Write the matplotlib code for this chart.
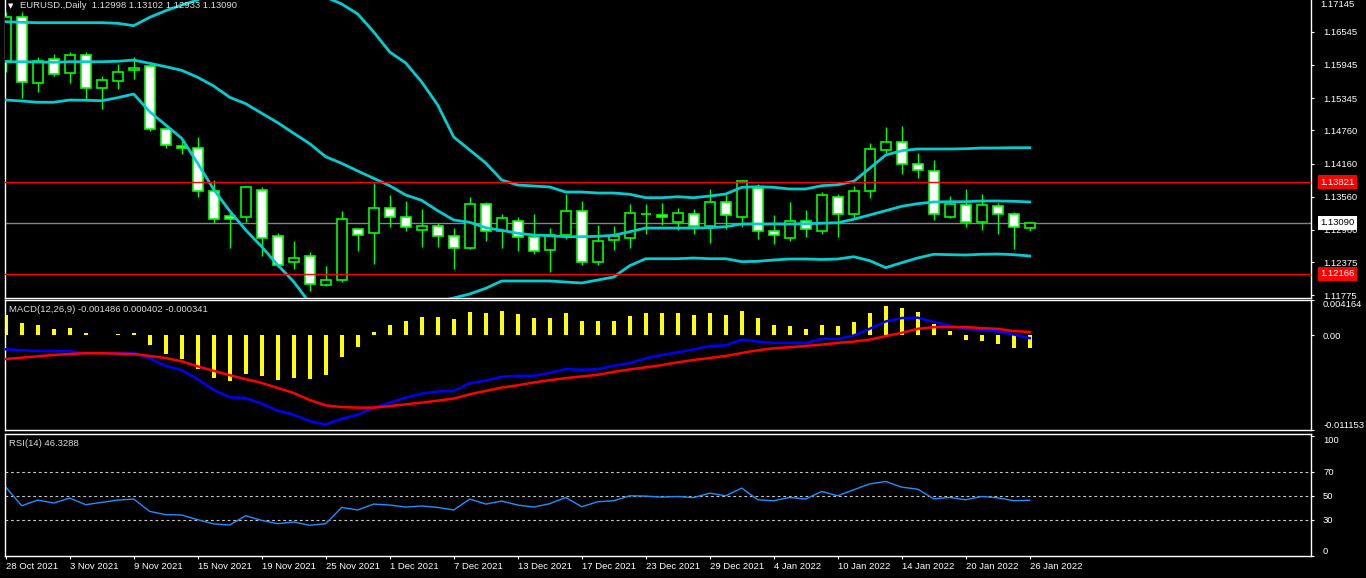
import numpy as np
import matplotlib
matplotlib.use("Agg")
import matplotlib.pyplot as plt
from matplotlib.patches import Rectangle
from matplotlib.transforms import blended_transform_factory

plt.rcParams['font.family'] = ['Liberation Sans', 'DejaVu Sans']

# EURUSD daily candles, 28 Oct 2021 .. 26 Jan 2022
opens = [1.16021, 1.16805, 1.15611, 1.16045, 1.15792, 1.16117, 1.15521, 1.15647, 1.15846, 1.15918,
         1.14779, 1.14478, 1.14436, 1.13658, 1.13206, 1.13188, 1.13676, 1.12844, 1.12374, 1.12482,
         1.11958, 1.12048, 1.12971, 1.12898, 1.13351, 1.13188, 1.12961, 1.13039, 1.12844, 1.12627,
         1.13423, 1.12941, 1.13115, 1.12826, 1.12591, 1.12862, 1.13296, 1.12374, 1.12772, 1.12820,
         1.13242, 1.13224, 1.13109, 1.13242, 1.13033, 1.13459, 1.13188, 1.13712, 1.12935, 1.12820,
         1.13115, 1.12947, 1.13549, 1.13242, 1.13658, 1.14400, 1.14544, 1.14146, 1.14020, 1.13188,
         1.13405, 1.13097, 1.13387, 1.13242, 1.12998]
highs = [1.16907, 1.16896, 1.16093, 1.16141, 1.16178, 1.16178, 1.15744, 1.15961, 1.16081, 1.15937,
         1.14809, 1.14574, 1.14641, 1.13863, 1.13260, 1.13742, 1.13730, 1.12898, 1.12760, 1.12555,
         1.12308, 1.13302, 1.12989, 1.13815, 1.13586, 1.13483, 1.13338, 1.13081, 1.12995, 1.13555,
         1.13465, 1.13242, 1.13194, 1.13248, 1.12995, 1.13610, 1.13483, 1.13049, 1.13025, 1.13429,
         1.13429, 1.13447, 1.13356, 1.13338, 1.13700, 1.13592, 1.13863, 1.13791, 1.13230, 1.13465,
         1.13320, 1.13646, 1.13610, 1.13754, 1.14526, 1.14821, 1.14839, 1.14345, 1.14219, 1.13567,
         1.13700, 1.13604, 1.13441, 1.13278, 1.13102]
lows = [1.15822, 1.15352, 1.15460, 1.15744, 1.15623, 1.15310, 1.15141, 1.15503, 1.15695, 1.14755,
        1.14436, 1.14327, 1.13562, 1.13091, 1.12627, 1.13109, 1.12494, 1.12296, 1.12260, 1.11862,
        1.11950, 1.12024, 1.12585, 1.12350, 1.13019, 1.12947, 1.12657, 1.12657, 1.12260, 1.12620,
        1.12766, 1.12639, 1.12585, 1.12531, 1.12205, 1.12802, 1.12332, 1.12332, 1.12603, 1.12639,
        1.12892, 1.13055, 1.12961, 1.12892, 1.12730, 1.12983, 1.13019, 1.12790, 1.12711, 1.12766,
        1.12838, 1.12892, 1.12838, 1.13170, 1.13543, 1.14357, 1.13977, 1.13905, 1.13146, 1.13180,
        1.13019, 1.12961, 1.12892, 1.12621, 1.12933]
closes = [1.16816, 1.15630, 1.16021, 1.15774, 1.16117, 1.15521, 1.15665, 1.15810, 1.15882, 1.14779,
          1.14490, 1.14442, 1.13658, 1.13152, 1.13152, 1.13730, 1.12820, 1.12320, 1.12446, 1.11976,
          1.12048, 1.13152, 1.12862, 1.13351, 1.13188, 1.13007, 1.13039, 1.12844, 1.12627, 1.13423,
          1.12941, 1.13170, 1.12826, 1.12573, 1.12862, 1.13296, 1.12374, 1.12754, 1.12844, 1.13260,
          1.13254, 1.13188, 1.13260, 1.13033, 1.13459, 1.13224, 1.13839, 1.12935, 1.12862, 1.13115,
          1.12971, 1.13586, 1.13242, 1.13658, 1.14418, 1.14544, 1.14146, 1.14038, 1.13242, 1.13423,
          1.13097, 1.13405, 1.13242, 1.13007, 1.13090]

# Bollinger bands (20, 2)
bb_upper = [1.16726, 1.16715, 1.16708, 1.16708, 1.16708, 1.16708, 1.16708, 1.16697, 1.16654, 1.16805,
            1.16925, 1.17028, 1.17118, 1.17400, 1.17580, 1.17680, 1.17750, 1.17720, 1.17620, 1.17420,
            1.17170, 1.17046, 1.16865, 1.16540, 1.16178, 1.15979, 1.15635, 1.15220, 1.14641, 1.14406,
            1.14171, 1.13863, 1.13773, 1.13755, 1.13737, 1.13646, 1.13646, 1.13628, 1.13628, 1.13605,
            1.13543, 1.13543, 1.13561, 1.13543, 1.13574, 1.13610, 1.13731, 1.13742, 1.13731, 1.13701,
            1.13701, 1.13760, 1.13778, 1.13840, 1.14075, 1.14315, 1.14393, 1.14424, 1.14424, 1.14424,
            1.14429, 1.14442, 1.14442, 1.14447, 1.14447]
bb_mid = [1.16002, 1.16002, 1.15997, 1.15992, 1.16002, 1.16002, 1.16002, 1.16010, 1.16033, 1.15973,
          1.15912, 1.15847, 1.15720, 1.15563, 1.15359, 1.15243, 1.15070, 1.14900, 1.14708, 1.14520,
          1.14284, 1.14165, 1.14026, 1.13894, 1.13760, 1.13592, 1.13496, 1.13308, 1.13140, 1.13098,
          1.13001, 1.12954, 1.12900, 1.12869, 1.12856, 1.12838, 1.12838, 1.12845, 1.12863, 1.12928,
          1.12995, 1.12995, 1.12995, 1.12995, 1.13001, 1.13019, 1.13068, 1.13068, 1.13068, 1.13068,
          1.13073, 1.13082, 1.13091, 1.13153, 1.13231, 1.13308, 1.13388, 1.13435, 1.13466, 1.13471,
          1.13471, 1.13484, 1.13484, 1.13479, 1.13466]
bb_lower = [1.15310, 1.15292, 1.15269, 1.15269, 1.15310, 1.15305, 1.15297, 1.15352, 1.15418, 1.15098,
            1.14858, 1.14617, 1.14165, 1.13692, 1.13303, 1.12959, 1.12657, 1.12326, 1.12024, 1.11639,
            1.11458, 1.11368, 1.11332, 1.11368, 1.11422, 1.11476, 1.11567, 1.11657, 1.11730, 1.11802,
            1.11905, 1.12037, 1.12037, 1.12037, 1.12037, 1.12019, 1.12001, 1.12055, 1.12109, 1.12314,
            1.12440, 1.12440, 1.12440, 1.12453, 1.12440, 1.12440, 1.12386, 1.12393, 1.12417, 1.12435,
            1.12435, 1.12426, 1.12435, 1.12476, 1.12404, 1.12278, 1.12368, 1.12453, 1.12520, 1.12513,
            1.12507, 1.12520, 1.12525, 1.12513, 1.12489]

# MACD(12,26,9): yellow histogram, blue main, red signal
macd_hist = [0.00243, 0.00145, 0.00125, 0.00077, 0.00089, 0.00030, 0.00006, 0.00018, 0.00030, -0.00113,
             -0.00220, -0.00279, -0.00398, -0.00504, -0.00537, -0.00457, -0.00477, -0.00524, -0.00504, -0.00516,
             -0.00469, -0.00255, -0.00137, 0.00045, 0.00125, 0.00172, 0.00220, 0.00220, 0.00196, 0.00279,
             0.00267, 0.00291, 0.00255, 0.00208, 0.00208, 0.00267, 0.00172, 0.00172, 0.00172, 0.00231,
             0.00267, 0.00267, 0.00267, 0.00243, 0.00267, 0.00243, 0.00291, 0.00208, 0.00125, 0.00113,
             0.00077, 0.00125, 0.00113, 0.00160, 0.00267, 0.00350, 0.00326, 0.00279, 0.00137, 0.00053,
             -0.00050, -0.00062, -0.00097, -0.00145, -0.001486]
macd_main = [-0.00164, -0.00176, -0.00184, -0.00184, -0.00188, -0.00208, -0.00208, -0.00208, -0.00208, -0.00271,
             -0.00358, -0.00410, -0.00516, -0.00643, -0.00730, -0.00738, -0.00805, -0.00888, -0.00935, -0.01011,
             -0.01050, -0.00983, -0.00935, -0.00852, -0.00793, -0.00734, -0.00686, -0.00662, -0.00655, -0.00564,
             -0.00532, -0.00489, -0.00477, -0.00477, -0.00442, -0.00398, -0.00406, -0.00398, -0.00358, -0.00326,
             -0.00271, -0.00231, -0.00200, -0.00166, -0.00125, -0.00117, -0.00050, -0.00074, -0.00089, -0.00089,
             -0.00089, -0.00042, -0.00042, -0.00002, 0.00077, 0.00164, 0.00204, 0.00208, 0.00157, 0.00116,
             0.00077, 0.00065, 0.00045, 0.00010, -0.000341]
macd_signal = [-0.00279, -0.00263, -0.00247, -0.00231, -0.00220, -0.00211, -0.00211, -0.00216, -0.00220, -0.00243,
               -0.00267, -0.00306, -0.00366, -0.00418, -0.00469, -0.00516, -0.00560, -0.00620, -0.00679, -0.00762,
               -0.00825, -0.00845, -0.00852, -0.00852, -0.00833, -0.00813, -0.00793, -0.00769, -0.00745, -0.00694,
               -0.00655, -0.00615, -0.00588, -0.00556, -0.00528, -0.00504, -0.00484, -0.00465, -0.00430, -0.00401,
               -0.00377, -0.00350, -0.00318, -0.00290, -0.00267, -0.00243, -0.00208, -0.00176, -0.00152, -0.00140,
               -0.00125, -0.00109, -0.00089, -0.00074, -0.00050, -0.00009, 0.00030, 0.00077, 0.00097, 0.00097,
               0.00097, 0.00085, 0.00077, 0.00050, 0.000402]

# RSI(14)
rsi = [57.3, 41.8, 46.5, 44.1, 48.2, 42.7, 44.6, 46.5, 47.4, 37.1,
       34.4, 34.1, 30.2, 26.7, 25.8, 33.5, 29.6, 26.9, 28.3, 25.5,
       26.9, 40.4, 38.3, 43.2, 42.4, 40.7, 41.6, 40.4, 38.3, 47.4,
       43.2, 45.7, 42.4, 40.7, 43.5, 48.7, 41.0, 45.1, 46.0, 50.1,
       49.8, 49.0, 49.5, 48.6, 52.3, 50.1, 56.5, 46.8, 46.0, 48.7,
       47.4, 53.7, 50.1, 55.1, 60.0, 62.0, 57.3, 55.6, 47.6, 48.7,
       46.8, 49.5, 48.4, 46.0, 46.3288]

date_labels = ['28 Oct 2021', '3 Nov 2021', '9 Nov 2021', '15 Nov 2021', '19 Nov 2021',
               '25 Nov 2021', '1 Dec 2021', '7 Dec 2021', '13 Dec 2021', '17 Dec 2021',
               '23 Dec 2021', '29 Dec 2021', '4 Jan 2022', '10 Jan 2022', '14 Jan 2022',
               '20 Jan 2022', '26 Jan 2022']
price_ticks = [1.16545, 1.15945, 1.15345, 1.14760, 1.14160, 1.13560, 1.12960, 1.12375, 1.11775]
top_label = 1.17145
level_hi = 1.13821
level_lo = 1.12166
last_price = 1.13090

lime = '#00FF00'
band_col = '#00CED1'
txt_col = '#DCDCDC'
fs = 6.8

W, H = 1366, 578
fig = plt.figure(figsize=(W / 100, H / 100), dpi=100, facecolor='black')


def box(top, bottom):
    # pixel rows of the panel -> figure rectangle
    return [5 / W, 1 - bottom / H, (1311 - 5) / W, (bottom - top) / H]


ax = fig.add_axes(box(0, 298))
ax_m = fig.add_axes(box(300, 430), sharex=ax)
ax_r = fig.add_axes(box(434, 556), sharex=ax)

for a in (ax, ax_m, ax_r):
    a.set_facecolor('black')
    for s in a.spines.values():
        s.set_color('white')
        s.set_linewidth(1)
    a.yaxis.tick_right()
    a.tick_params(axis='y', colors='white', length=2.2, width=0.8, pad=6.5, labelsize=fs)
ax.spines['top'].set_visible(False)

xs = np.arange(len(closes))

# ---- price panel ----
ax.axhline(last_price, color='#778899', lw=1, zorder=1)
for i in range(len(closes)):
    o, h, l, c = opens[i], highs[i], lows[i], closes[i]
    ax.vlines(xs[i], l, h, color=lime, lw=1, zorder=2)
    bear = c < o
    ax.add_patch(Rectangle((xs[i] - 0.3, min(o, c)), 0.6, max(abs(c - o), 2e-5),
                           facecolor='white' if bear else 'black', edgecolor=lime,
                           lw=1.2, zorder=3))
for band in (bb_upper, bb_mid, bb_lower):
    ax.plot(xs, band, color=band_col, lw=2, zorder=4)
ax.axhline(level_hi, color='red', lw=1, zorder=5)
ax.axhline(level_lo, color='red', lw=1, zorder=5)

ax.set_xlim(-0.044, 81.58)
ax.set_ylim(1.117295, 1.171182)
ax.set_yticks(price_ticks)
ax.set_yticklabels([f'{v:.5f}' for v in price_ticks])
ax.tick_params(axis='x', bottom=False, labelbottom=False)

tr = blended_transform_factory(ax.transAxes, ax.transData)
# topmost scale label sits right at the upper edge of the window
ax.text(1.0069, 1.0, f'{top_label:.5f}', transform=ax.transAxes, color='white',
        fontsize=fs, va='top', ha='left', clip_on=False)
for val, fc, tc in ((level_hi, 'red', 'white'), (level_lo, 'red', 'white'),
                    (last_price, 'white', 'black')):
    ax.text(1.0069, val, f'{val:.5f}', transform=tr, color=tc, fontsize=fs,
            va='center', ha='left', clip_on=False, zorder=10,
            bbox=dict(boxstyle='square,pad=0.25', fc=fc, ec='none'))

fig.text(11 / W, 1 - 6 / H, '\u25BC', color='white', fontsize=5, family='DejaVu Sans',
         ha='center', va='center')
fig.text(20 / W, 1 - 6 / H, 'EURUSD.,Daily  1.12998 1.13102 1.12933 1.13090',
         color=txt_col, fontsize=fs, ha='left', va='center')

# ---- MACD panel ----
ax_m.bar(xs, macd_hist, width=0.26, color='yellow', zorder=2)
ax_m.plot(xs, macd_main, color='blue', lw=1.8, zorder=3)
ax_m.plot(xs, macd_signal, color='red', lw=1.8, zorder=3)
ax_m.set_ylim(-0.011153, 0.004164)
ax_m.set_yticks([0.004164, 0.0, -0.011153])
ax_m.set_yticklabels(['0.004164', '0.00', '-0.011153'])
labs = ax_m.get_yticklabels()
labs[0].set_va('top')
labs[2].set_va('bottom')
ax_m.tick_params(axis='x', bottom=False, labelbottom=False)
fig.text(9 / W, 1 - 309 / H, 'MACD(12,26,9) -0.001486 0.000402 -0.000341',
         color=txt_col, fontsize=fs, ha='left', va='center')

# ---- RSI panel ----
for lv in (70, 50, 30):
    ax_r.axhline(lv, color='#C8C8C8', lw=0.8, linestyle=(0, (2.5, 2.5)), zorder=1)
ax_r.plot(xs, rsi, color='#1E90FF', lw=1, zorder=2)
ax_r.set_ylim(0, 101.5)
ax_r.set_yticks([100, 70, 50, 30, 0])
ax_r.set_yticklabels(['100', '70', '50', '30', '0'])
labs = ax_r.get_yticklabels()
labs[0].set_va('top')
labs[4].set_va('bottom')
ax_r.set_xticks(np.arange(0, len(closes), 4))
ax_r.set_xticklabels(date_labels)
ax_r.tick_params(axis='x', colors='white', length=2.5, width=0.8, pad=2, labelsize=fs)
for t in ax_r.get_xticklabels():
    t.set_ha('left')
fig.text(9 / W, 1 - 443 / H, 'RSI(14) 46.3288', color=txt_col, fontsize=fs,
         ha='left', va='center')

fig.savefig('out.png', dpi=100, facecolor='black')
